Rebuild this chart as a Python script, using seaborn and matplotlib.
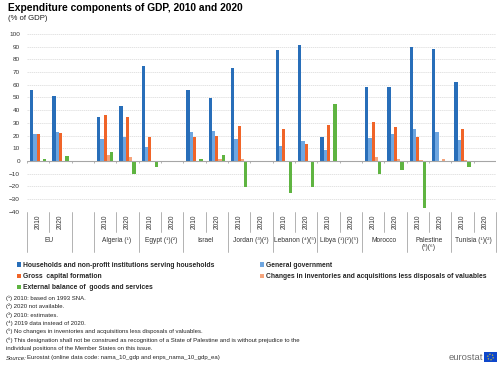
import numpy as np
import pandas as pd
import matplotlib
matplotlib.use("Agg")
import matplotlib.pyplot as plt
import matplotlib.transforms as mtransforms
from matplotlib.patches import Circle
import seaborn as sns

nan = np.nan

# data (% of GDP), one entry per country/year slot
countries = ["EU", "Algeria (¹)", "Egypt (¹)(²)", "Israel", "Jordan (³)(²)",
             "Lebanon (⁴)(⁵)", "Libya (¹)(²)(⁵)", "Morocco", "Palestine\n(³)(⁶)",
             "Tunisia (¹)(²)"]
years = ["2010", "2020"]
households = [55.5, 51.5, 34.5, 43.0, 74.5, nan, 56.0, 49.5, 73.5, nan,
              87.5, 91.5, 19.0, nan, 58.5, 58.0, 90.0, 88.0, 62.5, nan]
general_gov = [21.5, 22.5, 17.5, 18.5, 11.0, nan, 22.5, 23.5, 17.5, nan,
               12.0, 16.0, 9.0, nan, 18.0, 21.0, 25.5, 23.0, 16.5, nan]
gross_capital = [21.0, 22.0, 36.0, 34.5, 19.0, nan, 19.0, 20.0, 27.5, nan,
                 25.0, 13.5, 28.0, nan, 30.5, 26.5, 18.5, nan, 25.0, nan]
inventories = [0.3, 0.3, 5.0, 3.0, nan, nan, 0.3, 1.5, 1.5, nan,
               nan, nan, nan, nan, 3.0, 1.5, 0.5, 1.5, 0.5, nan]
ext_balance = [1.5, 4.0, 7.0, -10.0, -5.0, nan, 1.5, 4.5, -20.5, nan,
               -25.0, -20.5, 45.0, nan, -10.5, -7.5, -37.0, -0.5, -4.5, nan]

components = ["Households and non-profit institutions serving households",
              "General government",
              "Gross  capital formation",
              "Changes in inventories and acquisitions less disposals of valuables",
              "External balance of  goods and services"]
colors = ["#286EB9", "#6EA6E0", "#F06428", "#F5A47C", "#5FB441"]

footnotes = ["(¹) 2010: based on 1993 SNA.",
             "(²) 2020 not available.",
             "(³) 2010: estimates.",
             "(⁴) 2019 data instead of 2020.",
             "(⁵) No changes in inventories and acquisitions less disposals of valuables.",
             "(⁶) This designation shall not be construed as recognition of a State of Palestine and is without prejudice to the",
             "individual positions of the Member States on this issue."]

# build long table
slots = []
for c in countries:
    for y in years:
        slots.append(c + "|" + y)
order = slots[:2] + ["gap"] + slots[2:]
rows = []
for comp, vals in zip(components, [households, general_gov, gross_capital, inventories, ext_balance]):
    for s, v in zip(slots, vals):
        rows.append({"slot": s, "component": comp, "value": v})
df = pd.DataFrame(rows).dropna()

sns.set_style("white")
plt.rcParams["font.family"] = ["Liberation Sans", "DejaVu Sans"]

W, H = 500, 368
fig = plt.figure(figsize=(5, 3.68), dpi=100)
ax = fig.add_axes([27 / W, 1 - 211.7 / H, 469 / W, 177.7 / H])

sns.barplot(data=df, x="slot", y="value", hue="component", order=order,
            hue_order=components, palette=colors, width=0.74, errorbar=None,
            saturation=1, linewidth=0, ax=ax)
ax.get_legend().remove()

ax.set_ylim(-40, 100)
ax.set_yticks(range(-40, 101, 10))
ax.set_xlim(-0.5, len(order) - 0.5)
ax.yaxis.grid(True, color="#d8d8d8", lw=0.5, ls=(0, (2, 1)))
ax.set_axisbelow(True)
ax.axhline(0, color="#a6a6a6", lw=0.8, zorder=1)
for sp in ax.spines.values():
    sp.set_visible(False)
ax.tick_params(axis="y", length=0, labelsize=4.6, pad=5, labelcolor="#333333")
ax.set_xlabel("")
ax.set_ylabel("")

# year tick labels
ax.set_xticks(range(len(order)))
ax.set_xticklabels(["" if s == "gap" else s.split("|")[1] for s in order],
                   rotation=90, fontsize=4.8, color="#333333")
ax.tick_params(axis="x", length=0, pad=2)

# category separators
trans = mtransforms.blended_transform_factory(ax.transData, ax.transAxes)
bounds = np.arange(-0.5, len(order), 1.0)
for b in bounds:
    left = order[int(b - 0.5)] if b > 0 else None
    right = order[int(b + 0.5)] if b < len(order) - 1 else None
    same = (left and right and left != "gap" and right != "gap"
            and left.split("|")[0] == right.split("|")[0])
    low = -0.114 if same else -0.227
    ax.plot([b, b], [0, low], transform=trans, color="#a6a6a6", lw=0.6, clip_on=False)
ax.vlines(bounds, -1.4, 0, color="#a6a6a6", lw=0.6)

for c in countries:
    i = order.index(c + "|2010")
    ax.text(i + 0.5, -0.145, c, transform=trans, ha="center", va="top",
            fontsize=4.8, color="#333333", linespacing=1.0)

# legends, two columns
handles, labels = ax.get_legend_handles_labels()
lkw = dict(frameon=False, prop={"size": 4.85, "weight": "bold"}, handlelength=0.6,
           handleheight=0.6, handletextpad=0.3, labelspacing=0.6, borderpad=0,
           borderaxespad=0)
fig.legend([handles[i] for i in (0, 2, 4)], [labels[i] for i in (0, 2, 4)],
           loc="upper left", bbox_to_anchor=(17 / W, 1 - 262 / H), **lkw)
fig.legend([handles[i] for i in (1, 3)], [labels[i] for i in (1, 3)],
           loc="upper left", bbox_to_anchor=(260 / W, 1 - 262 / H), **lkw)

# titles
fig.text(8 / W, 1 - 8 / H, "Expenditure components of GDP, 2010 and 2020",
         fontsize=7.4, weight="bold", va="center", color="#000000")
fig.text(8 / W, 1 - 19 / H, "(% of GDP)", fontsize=5.6, va="center", color="#222222")

# footnotes
for k, line in enumerate(footnotes):
    fig.text(6 / W, 1 - (298 + 8.4 * k) / H, line, fontsize=4.3, va="center", color="#222222")
fig.text(6 / W, 1 - 358 / H, "Source:", fontsize=4.3, style="italic", va="center", color="#222222")
fig.text(27 / W, 1 - 358 / H, "Eurostat (online data code: nama_10_gdp and enps_nama_10_gdp_ea)",
         fontsize=4.3, va="center", color="#222222")

# eurostat logo
fig.text(483 / W, 1 - 357 / H, "eurostat", fontsize=6.8, ha="right", va="center", color="#6b6b6b")
flag = fig.add_axes([484 / W, 1 - 362 / H, 13 / W, 10 / H])
flag.set_facecolor("#0E47CB")
flag.set_xticks([])
flag.set_yticks([])
for sp in flag.spines.values():
    sp.set_visible(False)
flag.set_xlim(0, 1.3)
flag.set_ylim(0, 1)
flag.add_patch(Circle((0.65, 0.5), 0.28, fill=False, ec="#FFDD00", lw=0.8, ls=":"))

fig.savefig("out.png", dpi=100)
